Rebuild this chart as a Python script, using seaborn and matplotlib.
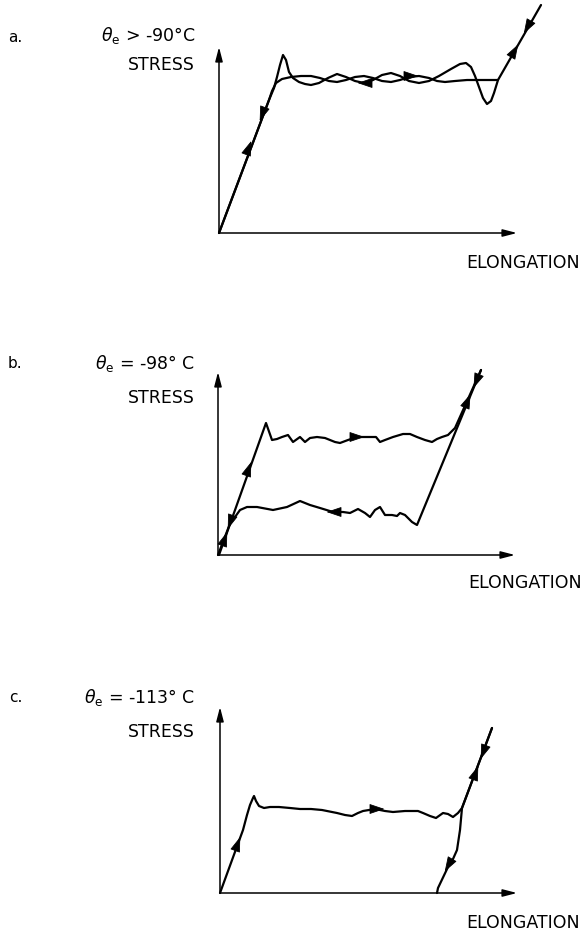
import matplotlib

matplotlib.use("Agg")

import matplotlib.pyplot as plt
import numpy as np
import seaborn as sns


FIG_W, FIG_H = 586, 935
DPI = 100

# Values are read off the picture in pixels, measured from each panel's origin
# (x = elongation to the right, y = stress upwards).

# Panel a: theta_e > -90 C
A_LOAD_X = [0, 50, 55, 58, 61, 64, 67, 70, 74, 80, 86, 92, 100, 109, 118, 127,
            136, 145, 154, 163, 172, 181, 190, 200, 210, 220, 232, 241, 247,
            252, 256, 260, 264, 268, 272, 275, 279, 322]
A_LOAD_Y = [0, 133, 145, 156, 168, 178, 173, 161, 155, 151, 149, 148, 150, 155,
            159, 156, 152, 150, 153, 158, 160, 157, 152, 150, 152, 157, 164,
            169, 170, 166, 157, 146, 135, 129, 132, 140, 153, 228]
A_UNLOAD_X = [0, 50, 53, 57, 63, 72, 82, 92, 101, 110, 118, 127, 136, 145, 154,
              163, 172, 181, 190, 200, 210, 218, 226, 236, 248, 260, 279]
A_UNLOAD_Y = [0, 133, 142, 150, 154, 156, 157, 157, 155, 152, 151, 153, 156,
              157, 155, 152, 151, 153, 156, 157, 155, 152, 151, 152, 153, 153,
              153]
A_ARROW_X = [30, 43, 193, 145, 296, 308]
A_ARROW_Y = [86, 118, 157, 150, 183, 205]
A_ARROW_DX = [57, -57, 1, -1, 43, -43]
A_ARROW_DY = [151, -151, 0, 0, 75, -75]

# Panel b: theta_e = -98 C
B_LOAD_X = [1, 48, 54, 59, 64, 70, 75, 82, 87, 92, 99, 107, 117, 122, 130, 139,
            152, 158, 162, 167, 175, 185, 192, 199, 207, 214, 219, 224, 230,
            237, 263]
B_LOAD_Y = [0, 132, 115, 116, 118, 120, 113, 118, 113, 117, 118, 117, 113, 112,
            115, 118, 118, 118, 113, 115, 118, 121, 121, 118, 115, 113, 116,
            118, 120, 127, 185]
B_UNLOAD_X = [263, 199, 194, 187, 182, 179, 174, 167, 162, 157, 152, 147, 140,
              132, 125, 115, 102, 92, 82, 69, 55, 39, 29, 22, 17, 13, 0]
B_UNLOAD_Y = [185, 30, 33, 40, 42, 39, 40, 40, 48, 45, 38, 42, 46, 42, 43, 43,
              47, 50, 54, 48, 45, 48, 48, 45, 38, 34, 0]
B_ARROW_X = [7, 12, 31, 140, 115, 250, 258]
B_ARROW_Y = [17, 32, 87, 118, 43, 155, 173]
B_ARROW_DX = [48, -48, 48, 1, -1, 64, -64]
B_ARROW_DY = [132, -132, 132, 0, 0, 155, -155]

# Panel c: theta_e = -113 C
C_LOAD_X = [0, 23, 27, 30, 33, 34, 36, 39, 44, 50, 59, 70, 80, 91, 102, 117,
            125, 132, 138, 143, 155, 165, 173, 185, 198, 203, 210, 216, 223,
            228, 233, 238, 242, 272]
C_LOAD_Y = [0, 63, 78, 88, 95, 97, 92, 87, 85, 86, 86, 85, 84, 84, 83, 80, 78,
            77, 80, 82, 84, 82, 81, 82, 82, 80, 77, 75, 80, 79, 76, 80, 85, 165]
C_UNLOAD_X = [272, 242, 240, 237, 233, 228, 218, 217]
C_UNLOAD_Y = [165, 85, 63, 43, 34, 26, 5, 0]
C_ARROW_X = [18, 158, 256, 263, 228]
C_ARROW_Y = [50, 84, 121, 140, 27]
C_ARROW_DX = [23, 1, 30, -30, -10]
C_ARROW_DY = [63, 0, 80, -80, -17]

PANEL_TAGS = ["a.", "b.", "c."]
PANEL_TEMPS = [
    r"$\theta_\mathrm{e}$ > -90°C",
    r"$\theta_\mathrm{e}$ = -98° C",
    r"$\theta_\mathrm{e}$ = -113° C",
]
AXIS_X_LEN = [298, 297, 297]
AXIS_Y_LEN = [186, 183, 186]

# layout of the three panels on the page (pixels)
BANDS = [(0, 300), (300, 620), (620, 935)]
ORIGINS = [(219, 233), (218, 555), (220, 893)]
TAG_POS = [(-211, 196), (-210, 192), (-211, 196)]
TEMP_POS = [(-24, 198), (-23, 192), (-25, 196)]
STRESS_POS = [(-24, 168), (-23, 157), (-25, 161)]
ELONG_POS = [(361, -30), (364, -28), (360, -30)]

HEAD = 6.5


def draw_arrowheads(ax, xs, ys, dxs, dys):
    """Small filled arrowheads sitting on the curves."""
    for x, y, dx, dy in zip(xs, ys, dxs, dys):
        u = np.array([dx, dy], dtype=float)
        u /= np.hypot(*u)
        ax.annotate(
            "",
            xy=(x + u[0] * HEAD, y + u[1] * HEAD),
            xytext=(x - u[0] * HEAD, y - u[1] * HEAD),
            arrowprops=dict(
                arrowstyle="-|>,head_length=0.95,head_width=0.32",
                mutation_scale=10,
                lw=0.6,
                color="black",
                shrinkA=0,
                shrinkB=0,
            ),
        )


def draw_axes_arrows(ax, x_len, y_len):
    for tip in [(x_len, 0), (0, y_len)]:
        ax.annotate(
            "",
            xy=tip,
            xytext=(0, 0),
            arrowprops=dict(
                arrowstyle="-|>,head_length=0.85,head_width=0.22",
                mutation_scale=10,
                lw=1.1,
                color="black",
                shrinkA=0,
                shrinkB=0,
            ),
        )


def main() -> None:
    sns.set_theme(style="white")
    plt.rcParams["font.family"] = ["DejaVu Sans"]
    plt.rcParams["text.color"] = "black"

    fig = plt.figure(figsize=(FIG_W / DPI, FIG_H / DPI), dpi=DPI)

    curves = [
        [(A_LOAD_X, A_LOAD_Y), (A_UNLOAD_X, A_UNLOAD_Y)],
        [(B_LOAD_X, B_LOAD_Y), (B_UNLOAD_X, B_UNLOAD_Y)],
        [(C_LOAD_X, C_LOAD_Y), (C_UNLOAD_X, C_UNLOAD_Y)],
    ]
    arrows = [
        (A_ARROW_X, A_ARROW_Y, A_ARROW_DX, A_ARROW_DY),
        (B_ARROW_X, B_ARROW_Y, B_ARROW_DX, B_ARROW_DY),
        (C_ARROW_X, C_ARROW_Y, C_ARROW_DX, C_ARROW_DY),
    ]

    for i in range(3):
        top, bottom = BANDS[i]
        ox, oy = ORIGINS[i]
        ax = fig.add_axes(
            [0, 1 - bottom / FIG_H, 1, (bottom - top) / FIG_H]
        )
        ax.set_xlim(-ox, FIG_W - ox)
        ax.set_ylim(oy - bottom, oy - top)
        ax.axis("off")

        for xs, ys in curves[i]:
            sns.lineplot(
                x=xs,
                y=ys,
                sort=False,
                estimator=None,
                color="black",
                lw=1.6,
                ax=ax,
            )

        draw_arrowheads(ax, *arrows[i])
        draw_axes_arrows(ax, AXIS_X_LEN[i], AXIS_Y_LEN[i])

        ax.text(*TAG_POS[i], PANEL_TAGS[i], fontsize=11,
                ha="left", va="center")
        ax.text(*TEMP_POS[i], PANEL_TEMPS[i], fontsize=12.5,
                ha="right", va="center")
        ax.text(*STRESS_POS[i], "STRESS", fontsize=12.5,
                ha="right", va="center")
        ax.text(*ELONG_POS[i], "ELONGATION", fontsize=12.5,
                ha="right", va="center")

    fig.savefig("out.png", dpi=DPI)
    plt.close(fig)


if __name__ == "__main__":
    main()
